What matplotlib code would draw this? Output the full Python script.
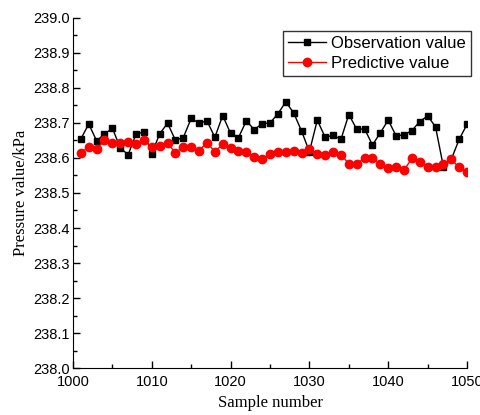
import matplotlib

matplotlib.use("Agg")
import matplotlib.pyplot as plt
from matplotlib.ticker import MultipleLocator


SAMPLES = list(range(1001, 1051))

OBSERVED = [
    238.654, 238.697, 238.649, 238.668, 238.685, 238.629, 238.609, 238.668, 238.674, 238.612,
    238.669, 238.699, 238.651, 238.658, 238.713, 238.699, 238.706, 238.659, 238.721, 238.670,
    238.658, 238.706, 238.681, 238.698, 238.700, 238.726, 238.760, 238.729, 238.677, 238.618,
    238.708, 238.659, 238.665, 238.653, 238.724, 238.682, 238.683, 238.637, 238.672, 238.708,
    238.663, 238.666, 238.678, 238.704, 238.720, 238.689, 238.575, 238.596, 238.653, 238.696,
]

PREDICTED = [
    238.614, 238.632, 238.625, 238.651, 238.642, 238.643, 238.646, 238.639, 238.651, 238.631,
    238.635, 238.642, 238.615, 238.632, 238.630, 238.621, 238.644, 238.618, 238.639, 238.628,
    238.620, 238.616, 238.602, 238.597, 238.611, 238.617, 238.617, 238.621, 238.613, 238.625,
    238.611, 238.609, 238.617, 238.609, 238.584, 238.584, 238.599, 238.599, 238.584, 238.572,
    238.573, 238.565, 238.599, 238.588, 238.575, 238.575, 238.584, 238.596, 238.573, 238.561,
]


def main() -> None:
    plt.rcParams.update({"font.family": "Liberation Sans", "font.size": 10.5})

    fig = plt.figure(figsize=(4.8, 4.15), dpi=100)
    ax = fig.add_axes([0.152, 0.113, 0.821, 0.844])

    ax.plot(SAMPLES, OBSERVED, color="black", marker="s", markersize=5, linewidth=1,
            label="Observation value")
    ax.plot(SAMPLES, PREDICTED, color="red", marker="o", markersize=6, linewidth=1,
            label="Predictive value")

    ax.set_xlim(1000, 1050)
    ax.set_ylim(238.0, 239.0)
    ax.xaxis.set_major_locator(MultipleLocator(10))
    ax.xaxis.set_minor_locator(MultipleLocator(5))
    ax.yaxis.set_major_locator(MultipleLocator(0.1))
    ax.yaxis.set_minor_locator(MultipleLocator(0.05))
    ax.yaxis.set_major_formatter(lambda v, pos: f"{v:.1f}")
    ax.tick_params(which="both", direction="in", width=1)
    ax.tick_params(which="major", length=5)
    ax.tick_params(which="minor", length=3)
    ax.tick_params(axis="y", pad=2)
    ax.tick_params(axis="x", pad=5)
    ax.spines["top"].set_visible(False)
    ax.spines["right"].set_visible(False)

    ax.set_xlabel("Sample number", family="Liberation Serif", fontsize=12, labelpad=4)
    ax.set_ylabel("Pressure value/kPa", family="Liberation Serif", fontsize=12, labelpad=3)

    leg = ax.legend(loc="upper right", bbox_to_anchor=(1.01, 0.963), fontsize=12,
                    frameon=True, fancybox=False, handlelength=2.3, borderpad=0.3,
                    labelspacing=0.3, handletextpad=0.3, borderaxespad=0)
    leg.get_frame().set_edgecolor("black")
    leg.get_frame().set_linewidth(1)

    fig.savefig("out.png", dpi=100)
    plt.close(fig)


if __name__ == "__main__":
    main()
